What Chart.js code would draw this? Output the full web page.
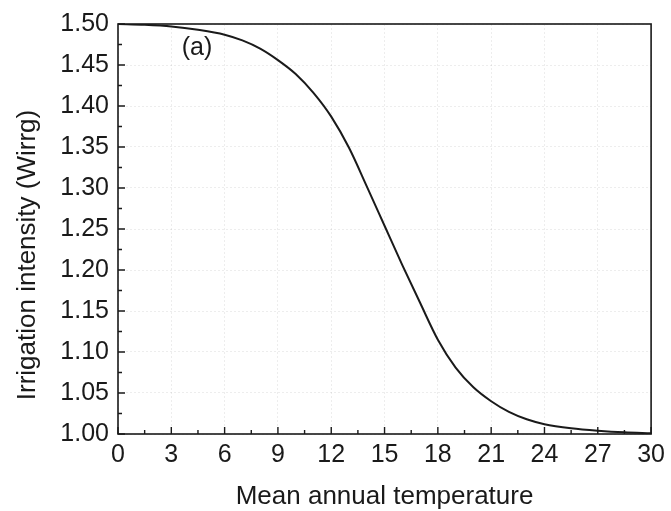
<!DOCTYPE html>
<html>
<head>
<meta charset="utf-8">
<script src="https://cdn.jsdelivr.net/npm/chart.js@4.4.1/dist/chart.umd.min.js"></script>
<style>
  html, body { margin: 0; padding: 0; background: #fff; }
  #wrap { width: 671px; height: 511px; }
</style>
</head>
<body>
<div id="wrap"><canvas id="chart" width="671" height="511"></canvas></div>
<script>
// values
const temps = [0, 1.5, 3, 4.5, 6, 7, 8, 9, 10, 11, 12, 13, 14, 15, 16, 17, 18, 19, 20, 21, 22, 23, 24, 25.5, 27, 28.5, 30];
const intensity = [1.500, 1.499, 1.497, 1.493, 1.487, 1.480, 1.470, 1.456, 1.439, 1.416, 1.387, 1.349, 1.302, 1.254, 1.206, 1.160, 1.115, 1.081, 1.057, 1.040, 1.027, 1.018, 1.012, 1.007, 1.004, 1.002, 1.001];

const xTicks = [0, 3, 6, 9, 12, 15, 18, 21, 24, 27, 30];
const xMinor = [1.5, 4.5, 7.5, 10.5, 13.5, 16.5, 19.5, 22.5, 25.5, 28.5];
const yTicks = [1.00, 1.05, 1.10, 1.15, 1.20, 1.25, 1.30, 1.35, 1.40, 1.45, 1.50];
const yMinor = [1.025, 1.075, 1.125, 1.175, 1.225, 1.275, 1.325, 1.375, 1.425, 1.475];

const xTitle = "Mean annual temperature";
const yTitle = "Irrigation intensity (Wirrg)";
const panelLabel = { text: "(a)", x: 4.45, y: 1.471 };

const FONT = "'Liberation Sans', Arial, sans-serif";
const INK = "#1a1a1a";

// frame, inward tick marks, y title and the panel label
const framePlugin = {
  id: "frame",
  afterDraw(chart) {
    const { ctx, chartArea: a, scales } = chart;
    const xs = scales.x, ys = scales.y;
    ctx.save();
    ctx.strokeStyle = INK;
    ctx.lineWidth = 1.6;
    ctx.strokeRect(a.left, a.top, a.right - a.left, a.bottom - a.top);

    ctx.lineWidth = 1.4;
    ctx.beginPath();
    xTicks.forEach((v) => {
      const px = xs.getPixelForValue(v);
      ctx.moveTo(px, a.bottom);
      ctx.lineTo(px, a.bottom - 7);
    });
    xMinor.forEach((v) => {
      const px = xs.getPixelForValue(v);
      ctx.moveTo(px, a.bottom);
      ctx.lineTo(px, a.bottom - 4);
    });
    yTicks.forEach((v) => {
      const py = ys.getPixelForValue(v);
      ctx.moveTo(a.left, py);
      ctx.lineTo(a.left + 7, py);
    });
    yMinor.forEach((v) => {
      const py = ys.getPixelForValue(v);
      ctx.moveTo(a.left, py);
      ctx.lineTo(a.left + 4, py);
    });
    ctx.stroke();

    ctx.fillStyle = INK;
    ctx.textAlign = "center";
    ctx.textBaseline = "middle";
    ctx.font = `25px ${FONT}`;
    ctx.fillText(
      panelLabel.text,
      xs.getPixelForValue(panelLabel.x),
      ys.getPixelForValue(panelLabel.y)
    );

    // y title sits a little below the middle of the axis in the original
    ctx.font = `26px ${FONT}`;
    ctx.translate(28, (a.top + a.bottom) / 2 + 26);
    ctx.rotate(-Math.PI / 2);
    ctx.fillText(yTitle, 0, 0);
    ctx.restore();
  },
};

new Chart(document.getElementById("chart"), {
  type: "line",
  data: {
    datasets: [
      {
        data: temps.map((t, i) => ({ x: t, y: intensity[i] })),
        borderColor: INK,
        borderWidth: 2,
        pointRadius: 0,
        fill: false,
        cubicInterpolationMode: "monotone",
      },
    ],
  },
  options: {
    responsive: false,
    animation: false,
    layout: { padding: { left: 0, right: 14, top: 22, bottom: 0 } },
    plugins: { legend: { display: false }, tooltip: { enabled: false } },
    scales: {
      x: {
        type: "linear",
        min: 0,
        max: 30,
        afterBuildTicks: (s) => { s.ticks = xTicks.map((v) => ({ value: v })); },
        afterFit: (s) => { s.height = 77; },
        grid: { color: "rgba(0,0,0,0.07)", drawTicks: false },
        border: { display: false, dash: [2, 2] },
        ticks: { color: INK, padding: 6, maxRotation: 0, font: { family: FONT, size: 25 } },
        title: {
          display: true,
          text: xTitle,
          color: INK,
          font: { family: FONT, size: 26, lineHeight: 1.1 },
          padding: { top: 0, bottom: 0 },
        },
      },
      y: {
        type: "linear",
        min: 1.0,
        max: 1.5,
        afterBuildTicks: (s) => { s.ticks = yTicks.map((v) => ({ value: v })); },
        afterFit: (s) => { s.width = 118; },
        grid: { color: "rgba(0,0,0,0.07)", drawTicks: false },
        border: { display: false, dash: [2, 2] },
        ticks: {
          color: INK,
          padding: 9,
          font: { family: FONT, size: 25 },
          callback: (v) => Number(v).toFixed(2),
        },
        title: { display: false },
      },
    },
  },
  plugins: [framePlugin],
});
</script>
</body>
</html>
